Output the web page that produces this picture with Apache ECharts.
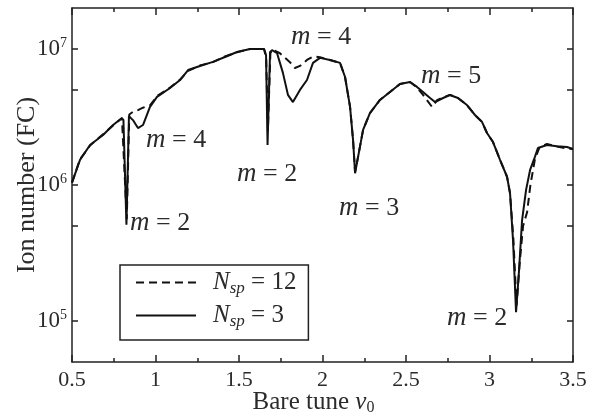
<!DOCTYPE html>
<html><head><meta charset="utf-8">
<script src="https://cdn.jsdelivr.net/npm/echarts@6/dist/echarts.min.js"></script>
<style>html,body{margin:0;padding:0;background:#fff}#c{width:595px;height:416px}</style>
</head><body><div id="c"></div>
<script>
var vSolid = [0.500,0.548,0.608,0.686,0.746,0.799,0.808,0.826,0.841,0.865,0.895,0.925,0.967,1.009,1.087,1.147,1.195,1.266,1.344,1.416,1.488,1.566,1.650,1.662,1.671,1.686,1.698,1.728,1.763,1.793,1.823,1.865,1.907,1.943,1.985,2.045,2.105,2.135,2.165,2.183,2.195,2.213,2.243,2.284,2.344,2.404,2.464,2.524,2.566,2.602,2.644,2.674,2.722,2.763,2.811,2.865,2.913,2.955,2.985,3.021,3.063,3.105,3.123,3.141,3.159,3.177,3.195,3.219,3.243,3.272,3.290,3.344,3.404,3.464,3.500];
var nSolid = [1.04e6,1.53e6,1.97e6,2.33e6,2.76e6,3.11e6,3.0e6,5.1e5,3.21e6,3.0e6,2.62e6,2.76e6,3.75e6,4.44e6,5.16e6,5.91e6,7.0e6,7.5e6,8.03e6,8.73e6,9.5e6,1.0e7,1.0e7,9.0e6,1.97e6,9.5e6,9.8e6,9.3e6,6.67e6,4.6e6,4.07e6,5.0e6,5.91e6,7.9e6,8.6e6,8.3e6,7.9e6,6.22e6,3.75e6,2.14e6,1.22e6,1.61e6,2.54e6,3.38e6,4.22e6,4.83e6,5.53e6,5.72e6,5.26e6,4.83e6,4.36e6,4.07e6,4.36e6,4.59e6,4.36e6,3.87e6,3.27e6,2.91e6,2.41e6,2.07e6,1.53e6,1.15e6,8.7e5,3.9e5,1.16e5,2.37e5,5.5e5,9.2e5,1.29e6,1.61e6,1.87e6,1.97e6,1.93e6,1.9e6,1.84e6];
var vDashed = [0.500,0.548,0.608,0.686,0.746,0.799,0.810,0.828,0.843,0.865,0.895,0.925,0.967,1.009,1.087,1.147,1.195,1.266,1.344,1.416,1.488,1.566,1.650,1.663,1.673,1.688,1.700,1.745,1.805,1.835,1.865,1.907,1.943,1.985,2.045,2.105,2.135,2.165,2.183,2.195,2.213,2.243,2.284,2.344,2.404,2.464,2.524,2.566,2.602,2.656,2.686,2.722,2.763,2.811,2.865,2.913,2.955,2.985,3.021,3.063,3.105,3.123,3.143,3.162,3.180,3.201,3.225,3.245,3.272,3.300,3.344,3.404,3.464,3.500];
var nDashed = [1.04e6,1.55e6,1.95e6,2.36e6,2.74e6,3.1e6,3.0e6,5.6e5,3.3e6,3.45e6,3.55e6,3.7e6,3.85e6,4.5e6,5.2e6,5.95e6,6.9e6,7.55e6,8.0e6,8.8e6,9.45e6,1.0e7,1.0e7,8.5e6,2.5e6,9.3e6,9.9e6,9.3e6,8.0e6,7.24e6,7.5e6,8.3e6,8.8e6,8.7e6,8.3e6,7.9e6,6.22e6,3.75e6,2.14e6,1.25e6,1.61e6,2.54e6,3.38e6,4.22e6,4.83e6,5.53e6,5.72e6,5.2e6,4.6e6,3.75e6,4.2e6,4.4e6,4.6e6,4.36e6,3.87e6,3.27e6,2.91e6,2.41e6,2.07e6,1.53e6,1.15e6,8.7e5,4.0e5,1.3e5,2.6e5,5.0e5,6.3e5,1.0e6,1.55e6,1.9e6,2.0e6,1.92e6,1.85e6,1.84e6];
var yLabelTicks = [1e5, 1e6, 1e7];
var yMinorTicks = [1e5, 5e5, 1e6, 5e6, 1e7];
var annotations = [
  {t:'4', x:146, y:140}, {t:'2', x:237, y:174}, {t:'4', x:291, y:37},
  {t:'5', x:421, y:76}, {t:'3', x:339, y:208}, {t:'2', x:130, y:223}, {t:'2', x:447, y:318}
];

function zip(a,b){return a.map(function(v,i){return [v,b[i]];});}
var FONT = 'Liberation Serif';
var TXT = '#2b2b2b';
var AX = '#222';
var chart = echarts.init(document.getElementById('c'), null, {renderer:'canvas'});
var supRich = {sup:{fontSize:14, verticalAlign:'top', padding:[0,0,12,0], fontFamily:FONT, color:TXT}};
chart.setOption({
  animation:false,
  grid:{left:72, right:22, top:8, bottom:54, outerBoundsMode:'none', containLabel:false},
  xAxis:[{
    type:'value', min:0.5, max:3.5, interval:0.5,
    axisLine:{lineStyle:{color:AX, width:1.5}},
    axisTick:{inside:true, length:7, lineStyle:{color:AX, width:1.5}},
    minorTick:{show:true, splitNumber:2, length:4, lineStyle:{color:AX, width:1.5}},
    splitLine:{show:false},
    axisLabel:{fontFamily:FONT, fontSize:22, color:TXT, margin:7},
    name:'Bare tune {i|ν}{sub|0}', nameLocation:'middle', nameGap:27, nameMoveOverlap:false,
    nameTextStyle:{fontFamily:FONT, fontSize:25, color:TXT, padding:[0,18,0,0],
      rich:{i:{fontStyle:'italic', fontFamily:FONT, fontSize:25, color:TXT},
            sub:{fontSize:16, verticalAlign:'bottom', padding:[11,0,0,0], fontFamily:FONT, color:TXT}}}
  },{
    type:'value', min:0.5, max:3.5, interval:0.5, position:'top',
    axisLine:{lineStyle:{color:AX, width:1.5}},
    axisTick:{inside:true, length:7, lineStyle:{color:AX, width:1.5}},
    minorTick:{show:true, splitNumber:2, length:4, lineStyle:{color:AX, width:1.5}},
    splitLine:{show:false}, axisLabel:{show:false}
  }],
  yAxis:[{
    type:'log', logBase:10, min:5e4, max:2e7,
    axisLine:{show:true, lineStyle:{color:AX, width:1.5}},
    axisTick:{inside:true, length:6, customValues:yMinorTicks, lineStyle:{color:AX, width:1.5}},
    splitLine:{show:false}, minorTick:{show:false},
    axisLabel:{customValues:yLabelTicks, fontFamily:FONT, fontSize:23, color:TXT, margin:5,
      formatter:function(v){return '10{sup|'+Math.round(Math.log10(v))+'}';}, rich:supRich},
    name:'Ion number (FC)', nameLocation:'middle', nameGap:32, nameMoveOverlap:false,
    nameTextStyle:{fontFamily:FONT, fontSize:26, color:TXT}
  },{
    type:'log', logBase:10, min:5e4, max:2e7, position:'right',
    axisLine:{show:true, lineStyle:{color:AX, width:1.5}},
    axisTick:{inside:true, length:6, customValues:yMinorTicks, lineStyle:{color:AX, width:1.5}},
    splitLine:{show:false}, minorTick:{show:false}, axisLabel:{show:false}
  }],
  legend:{
    orient:'vertical', left:120, top:265,
    backgroundColor:'#fff', borderColor:AX, borderWidth:1.5, borderRadius:0,
    padding:[5,12,10,15], itemGap:6, itemWidth:60, itemHeight:24,
    itemStyle:{color:'transparent', borderWidth:0, opacity:0},
    textStyle:{fontFamily:FONT, fontSize:25, color:TXT, padding:[0,0,0,12],
      rich:{sub:{fontFamily:FONT, fontStyle:'italic', fontSize:17, verticalAlign:'bottom', padding:[12,0,0,0], color:TXT},
            n:{fontFamily:FONT, fontStyle:'italic', fontSize:25, color:TXT}}},
    formatter:function(name){ return name==='12' ? '{n|N}{sub|sp} = 12' : '{n|N}{sub|sp} = 3'; },
    data:['12','3']
  },
  series:[{
    name:'12', type:'line', symbol:'none', xAxisIndex:0, yAxisIndex:0,
    lineStyle:{color:'#111', width:2, type:[8,5]}, itemStyle:{color:'#111'},
    data:zip(vDashed, nDashed), z:3
  },{
    name:'3', type:'line', symbol:'none', xAxisIndex:0, yAxisIndex:0,
    lineStyle:{color:'#111', width:2}, itemStyle:{color:'#111'},
    data:zip(vSolid, nSolid), z:4
  }],
  graphic: annotations.map(function(a){
    return {type:'text', x:a.x, y:a.y, z:100, style:{
      text:'{i|m} = '+a.t, fill:TXT, fontFamily:FONT, fontSize:26, verticalAlign:'middle',
      rich:{i:{fontStyle:'italic', fontFamily:FONT, fontSize:27, fill:TXT, color:TXT}}}};
  })
});
</script></body></html>
